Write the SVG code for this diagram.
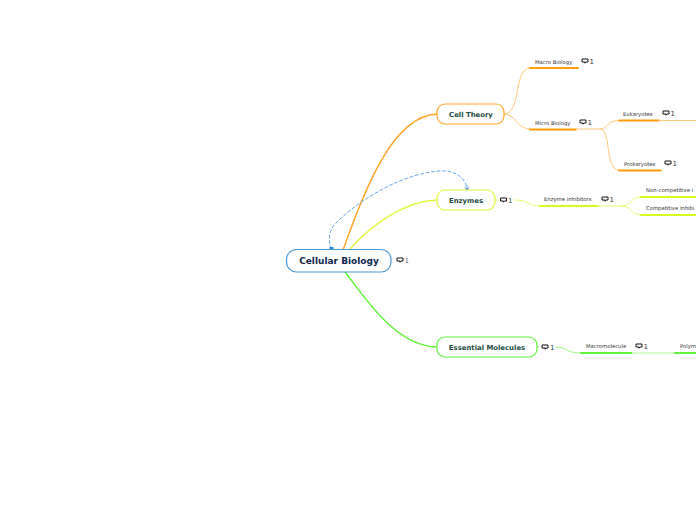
<svg xmlns="http://www.w3.org/2000/svg" width="696" height="520" viewBox="0 0 696 520">
<style>
text{font-family:"DejaVu Sans",Verdana,sans-serif}
.c{fill:none;stroke-linecap:round}
.sub{font-size:5.3px;fill:#333}
.main{font-size:6.9px;font-weight:bold;fill:#1a4a40}
.n{font-size:7px}
.ic{fill:#fff;stroke:#111;stroke-width:1}
.o{stroke:#ffc97a;stroke-width:1}
.ot{stroke:#ff9c0a;stroke-width:1.8}
.y{stroke:#e6fb6e;stroke-width:1}
.yt{stroke:#d6fb1e;stroke-width:1.8}
.g{stroke:#9cfb7c;stroke-width:1}
.gt{stroke:#5df53a;stroke-width:1.8}
</style>
<defs>
<path id="i" d="M0-2H6V1H3.800L3 2.200V1H0Z"/>
</defs>
<g id="connectors">
<path class="c" d="M343 250C365 190 392 116 437 114" stroke="#ffa42a" stroke-width="1.500"/>
<path class="c" d="M349 250C372 224 405 201 437 200" stroke="#dcfb3c" stroke-width="1.300"/>
<path class="c" d="M345 272C365 297 395 346 437 347" stroke="#55f52a" stroke-width="1.300"/>
<path class="c" d="M331 249C328 238 329 230 336 223C352 207 375 192 393 184C410 176 432 170 446 171C458 172 466 180 467 189" stroke="#62a6ea" stroke-width="1" stroke-dasharray="3 2.500"/>
<path d="M467 186V190M464.800 187.500L467 190L469.200 187.500" fill="none" stroke="#2f7fc8" stroke-width=".8"/>
<rect x="329.500" y="247" width="4" height="3" fill="#2f86e0"/>
<path class="c o" d="M504 114C522 114 513 68 530 68"/>
<path class="c ot" d="M530 68H578"/>
<path class="c o" d="M504 114C516 114 517 129 530 129"/>
<path class="c ot" d="M530 129.500H576"/>
<path class="c o" d="M576 129H600C608 129 606 120.500 619 120.500"/>
<path class="c ot" d="M619 120.500H659"/>
<path class="c o" d="M659 120.500H696"/>
<path class="c o" d="M600 129C612 129 604 170 619 170"/>
<path class="c ot" d="M619 170.500H661"/>
<path class="c y" d="M495 200H498M515 200C530 200 527 206 540 206"/>
<path class="c yt" d="M540 206H598"/>
<path class="c y" d="M598 206H622C632 206 630 197 641 197"/>
<path class="c yt" d="M641 197H696"/>
<path class="c y" d="M622 206C632 206 630 215 641 215"/>
<path class="c yt" d="M641 215H696"/>
<path class="c g" d="M537 347H539M556 347C568 347 565 353 581 353"/>
<path class="c gt" d="M581 353H632"/>
<path d="M632 353H675" fill="none" stroke="#c8fbb8" stroke-width="1.500"/>
<path class="c gt" d="M675 353H696"/>
</g>
<g id="node-central">
<rect x="286.500" y="249.500" width="104.500" height="22.500" rx="10" fill="#fff" stroke="#4a98d4" stroke-width="1.200"/>
<text x="339" y="264" text-anchor="middle" font-size="9" font-weight="bold" fill="#10264e">Cellular Biology</text>
<use href="#i" x="397" y="260" class="ic"/>
<text x="404.500" y="263" class="n" fill="#667">1</text>
</g>
<g id="node-cell-theory">
<rect x="437" y="104" width="67" height="20" rx="8" fill="#fff" stroke="#ffa726" stroke-width="1.200"/>
<text x="471" y="117" text-anchor="middle" class="main">Cell Theory</text>
</g>
<g id="node-enzymes">
<rect x="437" y="190" width="58" height="20" rx="8" fill="#fff" stroke="#dcf83a" stroke-width="1.200"/>
<text x="466" y="203" text-anchor="middle" class="main">Enzymes</text>
<use href="#i" x="500.500" y="200" class="ic"/>
<text x="508" y="203" class="n" fill="#1a4a40">1</text>
</g>
<g id="node-essential">
<rect x="437" y="337" width="100" height="20" rx="8" fill="#fff" stroke="#5df53a" stroke-width="1.200"/>
<text x="487" y="350" text-anchor="middle" class="main">Essential Molecules</text>
<use href="#i" x="542" y="347" class="ic"/>
<text x="550" y="350" class="n" fill="#1a4a40">1</text>
</g>
<g id="node-macro"><text x="535" y="63.500" class="sub">Macro Biology</text><use href="#i" x="582" y="61" class="ic"/><text x="589.500" y="64" class="n" fill="#333">1</text></g>
<g id="node-micro"><text x="535" y="125" class="sub">Micro Biology</text><use href="#i" x="580" y="122" class="ic"/><text x="587.500" y="125" class="n" fill="#333">1</text></g>
<g id="node-eukaryotes"><text x="623" y="116" class="sub">Eukaryotes</text><use href="#i" x="663" y="113" class="ic"/><text x="670.500" y="116" class="n" fill="#333">1</text></g>
<g id="node-prokaryotes"><text x="624" y="166" class="sub">Prokaryotes</text><use href="#i" x="665" y="163" class="ic"/><text x="672.500" y="166" class="n" fill="#333">1</text></g>
<g id="node-inhibitors"><text x="544" y="201" class="sub">Enzyme inhibitors</text><use href="#i" x="602" y="199" class="ic"/><text x="609.500" y="202" class="n" fill="#333">1</text></g>
<g id="node-noncomp"><text x="646" y="192" class="sub">Non-competitive i</text></g>
<g id="node-comp"><text x="646" y="210" class="sub">Competitive inhibi</text></g>
<g id="node-macromolecule"><text x="586" y="348" class="sub">Macromolecule</text><use href="#i" x="636" y="346" class="ic"/><text x="643.500" y="349" class="n" fill="#333">1</text></g>
<g id="node-polym"><text x="680" y="348" class="sub">Polym</text></g>
</svg>
